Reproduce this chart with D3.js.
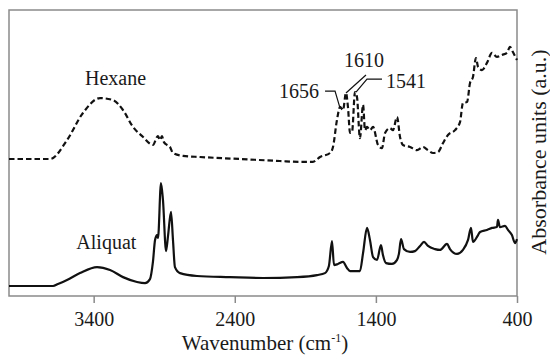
<!DOCTYPE html>
<html>
<head>
<meta charset="utf-8">
<script src="https://cdn.jsdelivr.net/npm/d3@7"></script>
<style>
  body { margin: 0; background: #fff; }
  text { font-family: "Liberation Serif", "DejaVu Serif", serif; fill: #1a1a1a; }
</style>
</head>
<body>
<div id="chart"></div>
<script>
// Wavenumber (cm-1) and absorbance (a.u.)
var hexaneWn = [4000, 3709, 3589, 3476, 3355, 3263, 3192, 3121, 3050, 2980, 2951, 2944, 2930, 2916, 2902, 2880, 2859, 2838, 2767, 2646, 2363, 2080, 1938, 1846, 1796, 1725, 1704, 1676, 1654, 1633, 1612, 1598, 1583, 1569, 1548, 1534, 1513, 1491, 1477, 1463, 1442, 1420, 1385, 1357, 1335, 1300, 1279, 1250, 1229, 1208, 1158, 1109, 1066, 1031, 995, 960, 924, 889, 839, 804, 783, 754, 733, 712, 691, 676, 648, 613, 577, 542, 506, 471, 450, 429, 400];
var hexaneAbs = [0.479, 0.479, 0.545, 0.640, 0.692, 0.685, 0.650, 0.591, 0.556, 0.528, 0.556, 0.559, 0.545, 0.559, 0.538, 0.528, 0.521, 0.500, 0.490, 0.486, 0.479, 0.472, 0.469, 0.469, 0.486, 0.500, 0.521, 0.615, 0.661, 0.650, 0.710, 0.661, 0.570, 0.573, 0.713, 0.696, 0.552, 0.668, 0.580, 0.591, 0.580, 0.591, 0.528, 0.517, 0.570, 0.587, 0.580, 0.626, 0.556, 0.528, 0.521, 0.510, 0.521, 0.510, 0.500, 0.503, 0.535, 0.563, 0.580, 0.608, 0.675, 0.678, 0.745, 0.766, 0.832, 0.801, 0.790, 0.815, 0.850, 0.836, 0.843, 0.850, 0.871, 0.853, 0.825];

var aliquatWn = [4000, 3688, 3653, 3589, 3497, 3376, 3284, 3192, 3093, 3036, 3001, 2980, 2965, 2951, 2944, 2923, 2909, 2887, 2873, 2852, 2838, 2824, 2788, 2668, 2434, 2200, 1959, 1817, 1761, 1733, 1711, 1697, 1669, 1633, 1605, 1583, 1513, 1491, 1463, 1442, 1420, 1392, 1364, 1350, 1328, 1286, 1250, 1236, 1222, 1201, 1158, 1123, 1087, 1059, 1031, 981, 946, 896, 875, 825, 783, 747, 726, 712, 676, 662, 613, 577, 542, 535, 521, 485, 464, 436, 414, 400];
var aliquatAbs = [0.035, 0.035, 0.042, 0.056, 0.080, 0.101, 0.091, 0.066, 0.049, 0.045, 0.059, 0.119, 0.196, 0.213, 0.203, 0.395, 0.336, 0.157, 0.210, 0.294, 0.196, 0.101, 0.080, 0.070, 0.066, 0.063, 0.066, 0.073, 0.080, 0.105, 0.192, 0.108, 0.112, 0.119, 0.098, 0.087, 0.087, 0.150, 0.238, 0.196, 0.136, 0.126, 0.178, 0.143, 0.115, 0.112, 0.126, 0.150, 0.199, 0.164, 0.154, 0.157, 0.175, 0.189, 0.175, 0.164, 0.161, 0.182, 0.164, 0.147, 0.161, 0.196, 0.238, 0.189, 0.213, 0.224, 0.231, 0.238, 0.241, 0.266, 0.241, 0.245, 0.231, 0.213, 0.185, 0.199];

var xTicks = [3400, 2400, 1400, 400];

// peak labels on the hexane curve
var peakLabels = ["1656", "1610", "1541"];
var peakWn = [1654, 1612, 1541];
var peakAbs = [0.657, 0.710, 0.713];

var seriesNames = ["Hexane", "Aliquat"];

var margin = { top: 10, right: 33, bottom: 63, left: 9 };
var width = 550 - margin.left - margin.right;
var height = 359 - margin.top - margin.bottom;

var svg = d3.select("#chart")
  .append("svg")
  .attr("width", 550)
  .attr("height", 359)
  .append("g")
  .attr("transform", "translate(" + margin.left + "," + margin.top + ")");

var x = d3.scaleLinear().domain([4000, 400]).range([0, width]);
var y = d3.scaleLinear().domain([0, 1]).range([height, 0]);

// frame
svg.append("rect")
  .attr("x", 0)
  .attr("y", 0)
  .attr("width", width)
  .attr("height", height)
  .style("fill", "none")
  .style("stroke", "#8a8a8a")
  .style("stroke-width", 1.5);

// x axis
var xAxis = svg.append("g")
  .attr("transform", "translate(0," + height + ")")
  .call(d3.axisBottom(x).tickValues(xTicks).tickSize(7).tickSizeOuter(0).tickPadding(9).tickFormat(d3.format("d")));
xAxis.select(".domain").remove();
xAxis.selectAll("line").style("stroke", "#8a8a8a").style("stroke-width", 1.5);
xAxis.selectAll("text")
  .style("font-family", "'Liberation Serif', serif")
  .style("font-size", "20px")
  .style("fill", "#1a1a1a");

var line = d3.line()
  .x(function (d) { return x(d[0]); })
  .y(function (d) { return y(d[1]); })
  .curve(d3.curveMonotoneX);

var hexane = hexaneWn.map(function (w, i) { return [w, hexaneAbs[i]]; });
var aliquat = aliquatWn.map(function (w, i) { return [w, aliquatAbs[i]]; });

svg.append("path")
  .datum(hexane)
  .attr("d", line)
  .style("fill", "none")
  .style("stroke", "#111")
  .style("stroke-width", 2.2)
  .style("stroke-dasharray", "5.5,3");

svg.append("path")
  .datum(aliquat)
  .attr("d", line)
  .style("fill", "none")
  .style("stroke", "#111")
  .style("stroke-width", 2.2);

// series names
svg.append("text")
  .attr("x", x(3245))
  .attr("y", y(0.7) - 11)
  .attr("text-anchor", "middle")
  .style("font-size", "20px")
  .text(seriesNames[0]);

svg.append("text")
  .attr("x", x(3310))
  .attr("y", y(0.165))
  .attr("text-anchor", "middle")
  .style("font-size", "20px")
  .text(seriesNames[1]);

// peak annotations: leader path offsets and text offsets (px)
var leaders = [
  { path: [[0, 0], [-5, -17], [-15, -17]], tx: -21, ty: -10, anchor: "end" },
  { path: [[0, 0], [20, -18]], tx: -2, ty: -26, anchor: "start" },
  { path: [[0, 0], [11, -13], [26, -13]], tx: 30, ty: -4, anchor: "start" }
];

peakLabels.forEach(function (label, i) {
  var px = x(peakWn[i]);
  var py = y(peakAbs[i]);
  var L = leaders[i];
  svg.append("path")
    .attr("d", d3.line()(L.path.map(function (p) { return [px + p[0], py + p[1]]; })))
    .style("fill", "none")
    .style("stroke", "#111")
    .style("stroke-width", 1.2);
  svg.append("text")
    .attr("x", px + L.tx)
    .attr("y", py + L.ty)
    .attr("text-anchor", L.anchor)
    .style("font-size", "20px")
    .text(label);
});

// axis titles
var xTitle = svg.append("text")
  .attr("x", 256)
  .attr("y", height + 54)
  .attr("text-anchor", "middle")
  .style("font-size", "21px");
xTitle.append("tspan").text("Wavenumber (cm");
xTitle.append("tspan").attr("dy", -8).style("font-size", "12px").text("-1");
xTitle.append("tspan").attr("dy", 8).text(")");

svg.append("text")
  .attr("transform", "translate(" + (width + 29) + "," + (height / 2 - 1) + ") rotate(-90)")
  .attr("text-anchor", "middle")
  .style("font-size", "22px")
  .text("Absorbance units (a.u.)");
</script>
</body>
</html>
